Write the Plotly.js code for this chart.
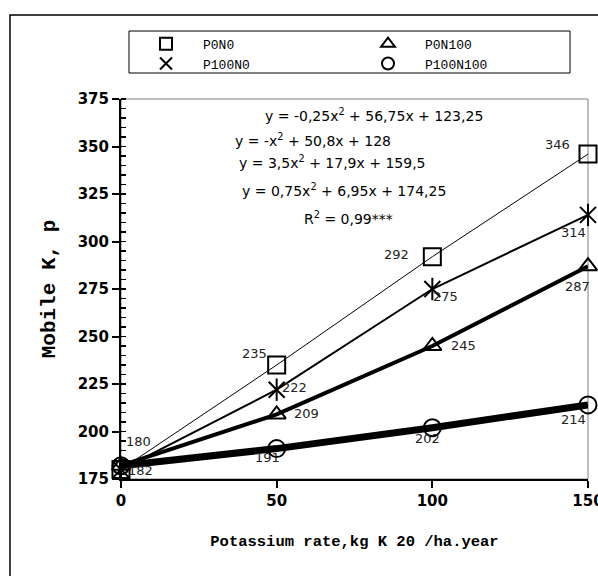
<!DOCTYPE html>
<html>
<head>
<meta charset="utf-8">
<script src="https://cdn.plot.ly/plotly-3.0.1.min.js"></script>
<style>html,body{margin:0;padding:0;background:#fff;}#chart{width:598px;height:576px;}</style>
</head>
<body>
<div id="chart"></div>
<script>
// ---- data ----
const potassiumRates = [0, 50, 100, 150];
const seriesNames = ['P0N0', 'P0N100', 'P100N0', 'P100N100'];
const p0n0 = [180, 235, 292, 346];
const p0n100 = [182, 209, 245, 287];
const p100n0 = [180, 222, 275, 314];
const p100n100 = [182, 191, 202, 214];
const equations = [
  'y = -0,25x<sup>2</sup> + 56,75x + 123,25',
  'y = -x<sup>2</sup> + 50,8x + 128',
  'y = 3,5x<sup>2</sup> + 17,9x + 159,5',
  'y = 0,75x<sup>2</sup> + 6,95x + 174,25',
  'R<sup>2</sup> = 0,99***'
];

// ---- styles ----
const seriesData = [p0n0, p0n100, p100n0, p100n100];
const lineWidths = [1, 4, 2, 7];
const symbols = ['square-open', 'triangle-up-open', 'x-thin-open', 'circle-open'];
const symSizes = [17, 16, 16, 17];
const legendOf = ['legend', 'legend2', 'legend', 'legend2'];
// label offsets (px) per series per point
const labelShift = [
  [[17, 28], [-22, 12], [-36, 2], [-31, 10]],
  [[0, 0], [30, 1], [31, 1], [-11, -20]],
  [[0, 0], [18, 2], [13, -7], [-15, -18]],
  [[19, -5], [-9, -9], [-5, -11], [-15, -15]]
];
const showLabel = [[true,true,true,true],[false,true,true,true],[false,true,true,true],[true,true,true,true]];

const traces = [];
seriesData.forEach((ys, i) => {
  traces.push({
    x: potassiumRates, y: ys, mode: 'lines', showlegend: false,
    line: {color: '#000', width: lineWidths[i]}, hoverinfo: 'skip', cliponaxis: false
  });
});
seriesData.forEach((ys, i) => {
  traces.push({
    x: potassiumRates, y: ys, mode: 'markers', name: seriesNames[i], legend: legendOf[i],
    marker: {symbol: symbols[i], size: symSizes[i], color: '#000', line: {color: '#000', width: 2}},
    cliponaxis: false
  });
  if (symbols[i] === 'x-thin-open') {
    traces.push({
      x: potassiumRates, y: ys, mode: 'markers', showlegend: false,
      marker: {symbol: 'line-ns-open', size: symSizes[i], color: '#000', line: {color: '#000', width: 2}},
      cliponaxis: false
    });
  }
});

const annotations = [];
seriesData.forEach((ys, i) => {
  ys.forEach((v, j) => {
    if (!showLabel[i][j]) return;
    annotations.push({
      x: potassiumRates[j], y: v, xref: 'x', yref: 'y', text: String(v), showarrow: false,
      xshift: labelShift[i][j][0], yshift: labelShift[i][j][1],
      font: {family: 'DejaVu Sans', size: 13, color: '#222'}
    });
  });
});
const eqPos = [[0.304, 0.958], [0.240, 0.892], [0.248, 0.834], [0.255, 0.761], [0.388, 0.687]];
equations.forEach((t, k) => {
  annotations.push({
    x: eqPos[k][0], y: eqPos[k][1], xref: 'paper', yref: 'paper', xanchor: 'left', yanchor: 'middle',
    text: t, showarrow: false, font: {family: 'DejaVu Sans', size: 14, color: '#000'}
  });
});

const legendStyle = (x) => ({
  orientation: 'v', x: x, y: 1.185, xanchor: 'left', yanchor: 'top',
  itemwidth: 64, itemsizing: 'constant', borderwidth: 0, bgcolor: 'rgba(0,0,0,0)',
  font: {family: 'Liberation Mono', size: 13, color: '#000'}
});

const layout = {
  width: 598, height: 576,
  margin: {l: 121, r: 10, t: 99, b: 97},
  paper_bgcolor: '#fff', plot_bgcolor: '#fff',
  showlegend: true,
  legend: legendStyle(0.0171),
  legend2: legendStyle(0.4925),
  xaxis: {
    range: [0, 150], tickmode: 'linear', tick0: 0, dtick: 50, ticks: 'outside', ticklen: 7, tickwidth: 2, tickcolor: '#000',
    ticklabeloverflow: 'allow',
    showline: true, linecolor: '#000', linewidth: 2, showgrid: false, zeroline: false,
    tickfont: {family: 'DejaVu Sans', size: 15, weight: 'bold', color: '#000'},
    title: {text: 'Potassium rate,kg K 20 /ha.year', standoff: 26,
      font: {family: 'Liberation Mono', size: 15.5, weight: 'bold', color: '#000'}}
  },
  yaxis: {
    range: [175, 375], tickmode: 'linear', tick0: 175, dtick: 25, ticks: 'outside', ticklen: 7, tickwidth: 2, tickcolor: '#000',
    minor: {dtick: 5, tick0: 175, ticks: 'inside', ticklen: 5, tickwidth: 1.5, tickcolor: '#000', showgrid: false},
    showline: true, linecolor: '#000', linewidth: 2, showgrid: false, zeroline: false,
    tickfont: {family: 'DejaVu Sans', size: 15, weight: 'bold', color: '#000'},
    title: {text: 'Mobile K, p', standoff: 16,
      font: {family: 'Liberation Mono', size: 21, weight: 'bold', color: '#000'}}
  },
  shapes: [
    {type: 'rect', xref: 'paper', yref: 'paper', x0: 0, x1: 1, y0: 0, y1: 1,
     line: {color: '#808080', width: 1}, layer: 'below'},
    {type: 'rect', xref: 'paper', yref: 'paper', x0: -0.2377, x1: 1.1, y0: -0.3, y1: 1.2211,
     line: {color: '#000', width: 1.5}, layer: 'below'},
    // legend frame
    {type: 'rect', xref: 'paper', yref: 'paper', x0: 0.0171, x1: 0.9615, y0: 1.0684, y1: 1.1789,
     line: {color: '#000', width: 1}, fillcolor: 'rgba(0,0,0,0)', layer: 'below'}
  ],
  annotations: annotations
};

Plotly.newPlot('chart', traces, layout, {displayModeBar: false, staticPlot: true});
</script>
</body>
</html>
